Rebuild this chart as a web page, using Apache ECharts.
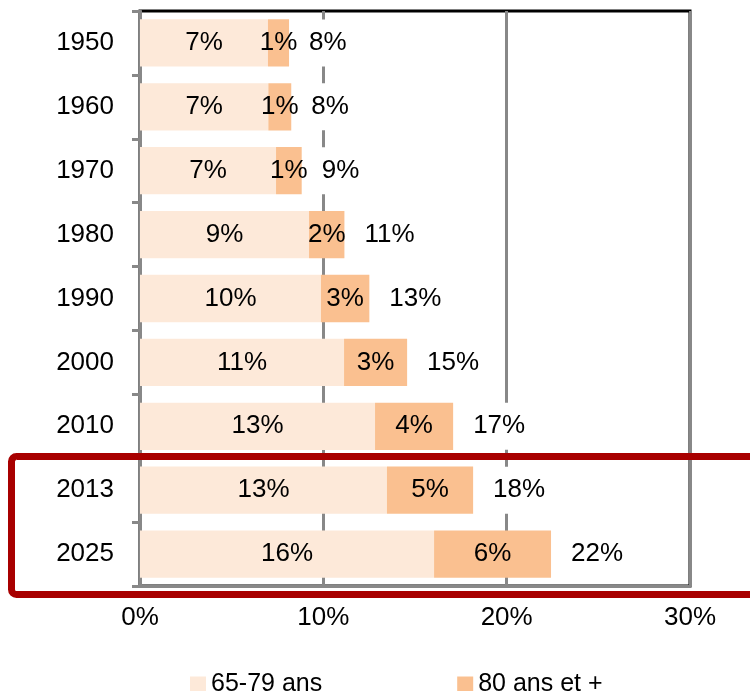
<!DOCTYPE html>
<html>
<head>
<meta charset="utf-8">
<script src="https://cdn.jsdelivr.net/npm/echarts@6/dist/echarts.min.js"></script>
<style>html,body{margin:0;padding:0;background:#fff}#c{width:750px;height:691px}</style>
</head>
<body>
<div id="c"></div>
<script>
var categories = ['1950','1960','1970','1980','1990','2000','2010','2013','2025'];
var values6579 = [6.98, 7.0, 7.42, 9.22, 9.87, 11.13, 12.82, 13.47, 16.04];
var values80 = [1.15, 1.25, 1.4, 1.93, 2.64, 3.44, 4.26, 4.7, 6.38];
var labels6579 = ['7%','7%','7%','9%','10%','11%','13%','13%','16%'];
var labels80 = ['1%','1%','1%','2%','3%','3%','4%','5%','6%'];
var labelsTotal = ['8%','8%','9%','11%','13%','15%','17%','18%','22%'];
var xTicks = [0, 10, 20, 30];
var seriesNames = ['65-79 ans', '80 ans et +'];

var FONT = '"Liberation Sans", Arial, sans-serif';
var FS = 26;
var chart = echarts.init(document.getElementById('c'));
var totals = values6579.map(function (v, i) { return [v + values80[i], i]; });

chart.setOption({
  animation: false,
  backgroundColor: '#fff',
  textStyle: { fontFamily: FONT },
  grid: { left: 140, right: 60, top: 11, bottom: 105, show: true, borderColor: '#000', borderWidth: 3, backgroundColor: 'transparent' },
  legend: {
    data: seriesNames,
    left: 185, top: 667,
    itemWidth: 16, itemHeight: 16, itemGap: 135,
    icon: 'rect',
    textStyle: { fontSize: 25, color: '#000', fontFamily: FONT }
  },
  xAxis: {
    type: 'value', min: xTicks[0], max: xTicks[xTicks.length - 1], interval: 10,
    axisLine: { show: true, lineStyle: { color: '#888', width: 3 } },
    axisTick: { show: true, inside: true, length: 6, lineStyle: { color: '#888', width: 3 } },
    splitLine: { show: true, lineStyle: { color: '#888', width: 3 } },
    axisLabel: { formatter: '{value}%', fontSize: FS, color: '#000', margin: 19, fontFamily: FONT }
  },
  yAxis: {
    type: 'category', data: categories, inverse: true,
    axisLine: { show: true, lineStyle: { color: '#888', width: 3 } },
    axisTick: { show: true, inside: false, length: 8, lineStyle: { color: '#888', width: 3 } },
    axisLabel: { fontSize: FS, color: '#000', margin: 26, fontFamily: FONT }
  },
  series: [
    {
      name: seriesNames[0], type: 'bar', stack: 'a', data: values6579,
      barCategoryGap: '26%',
      itemStyle: { color: '#FDE9D9' },
      label: { show: true, position: 'inside', fontSize: FS, color: '#000', fontFamily: FONT,
        formatter: function (p) { return labels6579[p.dataIndex]; } }
    },
    {
      name: seriesNames[1], type: 'bar', stack: 'a', data: values80,
      barCategoryGap: '26%',
      itemStyle: { color: '#FAC090' },
      label: { show: true, position: 'inside', fontSize: FS, color: '#000', fontFamily: FONT,
        formatter: function (p) { return labels80[p.dataIndex]; } }
    },
    {
      name: 'total', type: 'scatter', data: totals, symbolSize: 0,
      itemStyle: { color: '#fff', opacity: 1 },
      z: 5, silent: true,
      emphasis: { disabled: true },
      label: { show: true, position: 'right', distance: 14, fontSize: FS, color: '#000', opacity: 1,
        textBorderWidth: 0, fontFamily: FONT,
        backgroundColor: '#fff', padding: [0, 6, 0, 6], height: 47, lineHeight: 47,
        formatter: function (p) { return labelsTotal[p.dataIndex]; } }
    }
  ],
  graphic: [
    { type: 'rect', z: 100, shape: { x: 11.5, y: 456.5, width: 800, height: 138, r: 5 },
      style: { fill: 'none', stroke: '#A80000', lineWidth: 7 } }
  ]
});
</script>
</body>
</html>
